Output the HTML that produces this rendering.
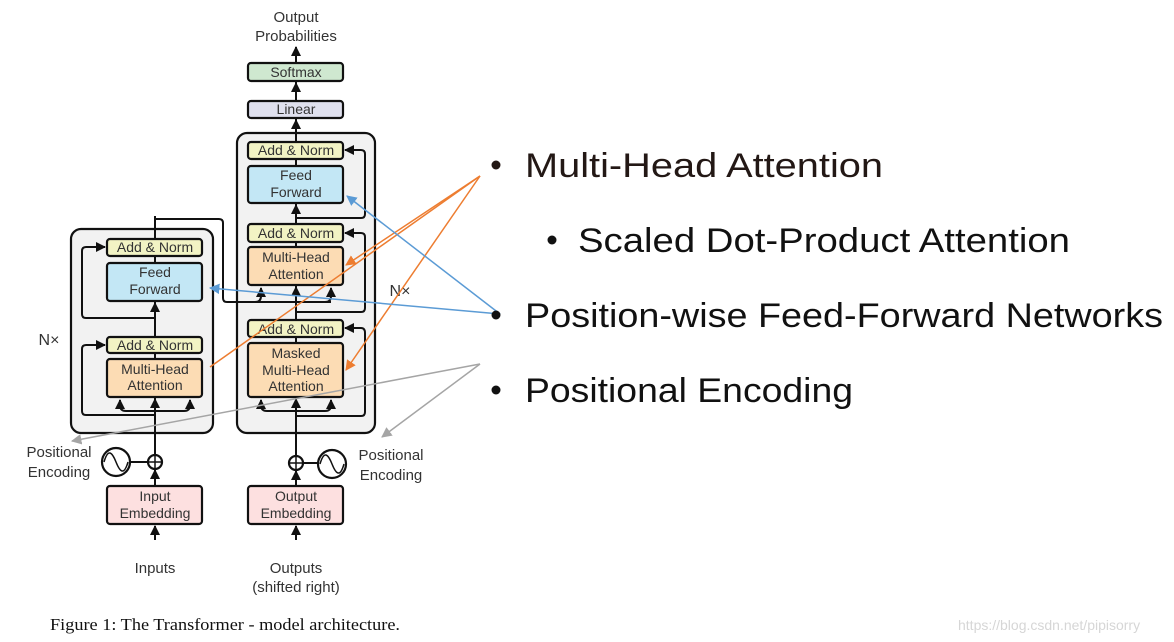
<!DOCTYPE html>
<html><head><meta charset="utf-8"><style>
html,body{margin:0;padding:0;background:#fff;width:1174px;height:642px;overflow:hidden}
svg{display:block}
.d{font-family:"Liberation Sans",sans-serif;font-size:14px;fill:#333;text-anchor:middle}
.b{stroke:#111;stroke-width:2.2}
.w{stroke:#111;stroke-width:2;fill:none}
.r{font-family:"Liberation Sans",sans-serif;font-size:34px}
</style></head><body>
<svg width="1174" height="642" viewBox="0 0 1174 642">
<defs>
<marker id="ah" viewBox="0 0 10 10" refX="9" refY="5" markerWidth="5" markerHeight="5" orient="auto"><path d="M0,0L10,5L0,10z" fill="#111"/></marker>
<marker id="ao" viewBox="0 0 10 10" refX="9" refY="5" markerWidth="7" markerHeight="7" orient="auto"><path d="M0,0L10,5L0,10z" fill="#ed7d31"/></marker>
<marker id="ab" viewBox="0 0 10 10" refX="9" refY="5" markerWidth="7" markerHeight="7" orient="auto"><path d="M0,0L10,5L0,10z" fill="#5b9bd5"/></marker>
<marker id="ag" viewBox="0 0 10 10" refX="9" refY="5" markerWidth="7" markerHeight="7" orient="auto"><path d="M0,0L10,5L0,10z" fill="#a5a5a5"/></marker>
</defs>

<rect x="71" y="229" width="142" height="204" rx="10" fill="#f2f2f2" class="b"/>
<rect x="237" y="133" width="138" height="300" rx="10" fill="#f2f2f2" class="b"/>

<!-- encoder wires -->
<line x1="155" y1="540" x2="155" y2="526" class="w" marker-end="url(#ah)"/>
<line x1="155" y1="486" x2="155" y2="470" class="w" marker-end="url(#ah)"/>
<line x1="155" y1="455" x2="155" y2="216" class="w"/>
<path d="M155,219 L219,219 Q223,219 223,223 L223,298 Q223,302 227,302 L331,302" class="w"/>
<path d="M155,415 L86,415 Q82,415 82,411 L82,349 Q82,345 86,345 L105,345" class="w" marker-end="url(#ah)"/>
<path d="M155,318 L86,318 Q82,318 82,314 L82,251 Q82,247 86,247 L105,247" class="w" marker-end="url(#ah)"/>
<path d="M155,411 L126,411 Q120,411 120,405 L120,400" class="w" marker-end="url(#ah)"/>
<path d="M155,411 L184,411 Q190,411 190,405 L190,400" class="w" marker-end="url(#ah)"/>
<line x1="155" y1="411" x2="155" y2="399" class="w" marker-end="url(#ah)"/>
<line x1="155" y1="320" x2="155" y2="303" class="w" marker-end="url(#ah)"/>

<!-- decoder wires -->
<line x1="296" y1="540" x2="296" y2="526" class="w" marker-end="url(#ah)"/>
<line x1="296" y1="486" x2="296" y2="471" class="w" marker-end="url(#ah)"/>
<line x1="296" y1="456" x2="296" y2="55" class="w"/>
<line x1="296" y1="100" x2="296" y2="83" class="w" marker-end="url(#ah)"/>
<line x1="296" y1="63" x2="296" y2="47" class="w" marker-end="url(#ah)"/>
<line x1="296" y1="142" x2="296" y2="120" class="w" marker-end="url(#ah)"/>
<path d="M296,416 L361,416 Q365,416 365,412 L365,333 Q365,328 361,328 L345,328" class="w" marker-end="url(#ah)"/>
<path d="M296,312 L361,312 Q365,312 365,308 L365,237 Q365,233 361,233 L345,233" class="w" marker-end="url(#ah)"/>
<path d="M296,218 L361,218 Q365,218 365,214 L365,154 Q365,150 361,150 L345,150" class="w" marker-end="url(#ah)"/>
<path d="M296,411 L267,411 Q261,411 261,405 L261,400" class="w" marker-end="url(#ah)"/>
<path d="M296,411 L325,411 Q331,411 331,405 L331,400" class="w" marker-end="url(#ah)"/>
<line x1="296" y1="411" x2="296" y2="399" class="w" marker-end="url(#ah)"/>
<path d="M255,302 Q261,302 261,296 L261,288" class="w" marker-end="url(#ah)"/>
<path d="M325,302 Q331,302 331,296 L331,288" class="w" marker-end="url(#ah)"/>
<line x1="296" y1="302" x2="296" y2="287" class="w" marker-end="url(#ah)"/>
<line x1="296" y1="222" x2="296" y2="205" class="w" marker-end="url(#ah)"/>

<g class="b">
<rect x="248" y="63" width="95" height="18" rx="3" fill="#cfe8d0"/>
<rect x="248" y="101" width="95" height="17" rx="3" fill="#dfe0ee"/>
<rect x="248" y="142" width="95" height="17" rx="3" fill="#f2f3c4"/>
<rect x="248" y="166" width="95" height="37" rx="3" fill="#c3e7f5"/>
<rect x="248" y="224" width="95" height="18" rx="3" fill="#f2f3c4"/>
<rect x="248" y="247" width="95" height="38" rx="3" fill="#fcdcb4"/>
<rect x="248" y="320" width="95" height="17" rx="3" fill="#f2f3c4"/>
<rect x="248" y="343" width="95" height="54" rx="3" fill="#fcdcb4"/>
<rect x="107" y="239" width="95" height="17" rx="3" fill="#f2f3c4"/>
<rect x="107" y="263" width="95" height="38" rx="3" fill="#c3e7f5"/>
<rect x="107" y="337" width="95" height="16" rx="3" fill="#f2f3c4"/>
<rect x="107" y="359" width="95" height="38" rx="3" fill="#fcdcb4"/>
<rect x="107" y="486" width="95" height="38" rx="3" fill="#fde0e0"/>
<rect x="248" y="486" width="95" height="38" rx="3" fill="#fde0e0"/>
</g>

<circle cx="155" cy="462" r="7" fill="#fff" class="b"/>
<path d="M148,462h14M155,455v14" stroke="#111" stroke-width="1.5"/>
<line x1="130" y1="462" x2="148" y2="462" class="w"/>
<circle cx="116" cy="462" r="14" fill="#fff" class="b"/>
<path d="M104,462 C108,448 112,452 116,462 C120,472 124,476 128,462" fill="none" stroke="#111" stroke-width="1.5"/>
<circle cx="296" cy="463" r="7" fill="#fff" class="b"/>
<path d="M289,463h14M296,456v14" stroke="#111" stroke-width="1.5"/>
<line x1="303" y1="463" x2="318" y2="463" class="w"/>
<circle cx="332" cy="464" r="14" fill="#fff" class="b"/>
<path d="M320,464 C324,450 328,454 332,464 C336,474 340,478 344,464" fill="none" stroke="#111" stroke-width="1.5"/>

<g class="d">
<text x="296" y="22" font-size="15">Output</text>
<text x="296" y="41" font-size="15">Probabilities</text>
<text x="296" y="77">Softmax</text>
<text x="296" y="114">Linear</text>
<text x="296" y="155">Add &amp; Norm</text>
<text x="296" y="180">Feed</text>
<text x="296" y="197">Forward</text>
<text x="296" y="238">Add &amp; Norm</text>
<text x="296" y="262">Multi-Head</text>
<text x="296" y="279">Attention</text>
<text x="296" y="334">Add &amp; Norm</text>
<text x="296" y="358">Masked</text>
<text x="296" y="375">Multi-Head</text>
<text x="296" y="391">Attention</text>
<text x="155" y="252">Add &amp; Norm</text>
<text x="155" y="277">Feed</text>
<text x="155" y="294">Forward</text>
<text x="155" y="350">Add &amp; Norm</text>
<text x="155" y="374">Multi-Head</text>
<text x="155" y="390">Attention</text>
<text x="155" y="501">Input</text>
<text x="155" y="518">Embedding</text>
<text x="296" y="501">Output</text>
<text x="296" y="518">Embedding</text>
<text x="155" y="573" font-size="15">Inputs</text>
<text x="296" y="573" font-size="15">Outputs</text>
<text x="296" y="592" font-size="15">(shifted right)</text>
<text x="49" y="345" font-size="16">N×</text>
<text x="400" y="296" font-size="16">N×</text>
<text x="59" y="457" font-size="15">Positional</text>
<text x="59" y="477" font-size="15">Encoding</text>
<text x="391" y="460" font-size="15">Positional</text>
<text x="391" y="480" font-size="15">Encoding</text>
</g>
<text x="50" y="630" font-family="Liberation Serif,serif" font-size="17" fill="#111" textLength="350" lengthAdjust="spacingAndGlyphs">Figure 1: The Transformer - model architecture.</text>
<text x="958" y="630" font-family="Liberation Sans,sans-serif" font-size="14" fill="#d6d6d6">https://blog.csdn.net/pipisorry</text>

<g stroke-width="1.5" fill="none">
<line x1="480" y1="176" x2="346" y2="265" stroke="#ed7d31" marker-end="url(#ao)"/>
<line x1="480" y1="176" x2="346" y2="370" stroke="#ed7d31" marker-end="url(#ao)"/>
<line x1="480" y1="176" x2="210" y2="367" stroke="#ed7d31"/>
<line x1="500" y1="314" x2="347" y2="196" stroke="#5b9bd5" marker-end="url(#ab)"/>
<line x1="500" y1="314" x2="210" y2="288" stroke="#5b9bd5" marker-end="url(#ab)"/>
<line x1="480" y1="364" x2="72" y2="441" stroke="#a5a5a5" marker-end="url(#ag)"/>
<line x1="480" y1="364" x2="382" y2="437" stroke="#a5a5a5" marker-end="url(#ag)"/>
</g>

<g class="r">
<circle cx="496" cy="165" r="4.5" fill="#231815"/>
<text x="525" y="177" fill="#231815" textLength="358" lengthAdjust="spacingAndGlyphs">Multi-Head Attention</text>
<circle cx="552" cy="240" r="4.5" fill="#111"/>
<text x="578" y="252" fill="#111" textLength="492" lengthAdjust="spacingAndGlyphs">Scaled Dot-Product Attention</text>
<circle cx="496" cy="315" r="4.5" fill="#111"/>
<text x="525" y="327" fill="#111" textLength="638" lengthAdjust="spacingAndGlyphs">Position-wise Feed-Forward Networks</text>
<circle cx="496" cy="390" r="4.5" fill="#111"/>
<text x="525" y="402" fill="#111" textLength="328" lengthAdjust="spacingAndGlyphs">Positional Encoding</text>
</g>
</svg>
</body></html>
